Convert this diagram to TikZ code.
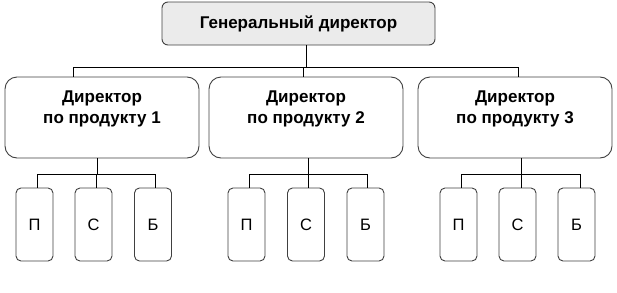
\documentclass[tikz,border=0pt]{standalone}
\usepackage{fontspec}
\setmainfont{Liberation Sans}
\begin{document}
\begin{tikzpicture}[x=1pt,y=-1pt,
  box/.style={draw=black!75, line width=0.9pt, fill=white},
  topbox/.style={box, fill=black!8, rounded corners=6pt, minimum width=273pt, minimum height=43pt, inner sep=0pt, font=\fontsize{17}{20.5}\selectfont\bfseries},
  midbox/.style={box, rounded corners=12pt, minimum width=194pt, minimum height=81pt, inner sep=0pt},
  midtext/.style={font=\fontsize{17}{20.5}\selectfont\bfseries, align=center, anchor=north, inner sep=0pt},
  smallbox/.style={box, rounded corners=5pt, minimum width=37pt, minimum height=73pt, inner sep=0pt, font=\fontsize{16.5}{18}\selectfont},
  conn/.style={draw=black, line width=0.9pt}
]
\useasboundingbox (0,0) rectangle (617,292);
\node[topbox] (top) at (298.5,23.5) {Генеральный директор};

\node[midbox] (m1) at (102,117.5) {};
\node[midbox] (m2) at (306,117.5) {};
\node[midbox] (m3) at (515,117.5) {};
\node[midtext] (t1) at ([yshift=-14.5pt]m1.north) {Директор\\по продукту 1};
\node[midtext] (t2) at ([yshift=-14.5pt]m2.north) {Директор\\по продукту 2};
\node[midtext] (t3) at ([yshift=-14.5pt]m3.north) {Директор\\по продукту 3};

\node[smallbox] (p1) at (34.5,224.5) {П};
\node[smallbox] (s1) at (93.5,224.5) {С};
\node[smallbox] (b1) at (153,224.5) {Б};
\node[smallbox] (p2) at (246.5,224.5) {П};
\node[smallbox] (s2) at (306,224.5) {С};
\node[smallbox] (b2) at (365.5,224.5) {Б};
\node[smallbox] (p3) at (458.5,224.5) {П};
\node[smallbox] (s3) at (517.5,224.5) {С};
\node[smallbox] (b3) at (576.5,224.5) {Б};

\coordinate (bus) at (0,67);
\coordinate (sbus) at (0,174);

% top level
\draw[conn] ([xshift=7.5pt]top.south) -- ([xshift=7.5pt]top.south |- bus);
\draw[conn] ([xshift=-29pt]m1.north) -- ([xshift=-29pt]m1.north |- bus) -- ([xshift=3pt]m3.north |- bus) -- ([xshift=3pt]m3.north);
\draw[conn] ([xshift=-3pt]m2.north) -- ([xshift=-3pt]m2.north |- bus);

% subtree 1
\draw[conn] ([xshift=-5pt]m1.south) -- ([xshift=-5pt]m1.south |- sbus);
\draw[conn] ([xshift=2.5pt]p1.north) -- ([xshift=2.5pt]p1.north |- sbus) -- ([xshift=2pt]b1.north |- sbus) -- ([xshift=2pt]b1.north);
\draw[conn] ([xshift=3pt]s1.north) -- ([xshift=3pt]s1.north |- sbus);
% subtree 2
\draw[conn] ([xshift=2pt]m2.south) -- ([xshift=2pt]m2.south |- sbus);
\draw[conn] ([xshift=2.5pt]p2.north) -- ([xshift=2.5pt]p2.north |- sbus) -- ([xshift=1.5pt]b2.north |- sbus) -- ([xshift=1.5pt]b2.north);
\draw[conn] ([xshift=2pt]s2.north) -- ([xshift=2pt]s2.north |- sbus);
% subtree 3
\draw[conn] ([xshift=6pt]m3.south) -- ([xshift=6pt]m3.south |- sbus);
\draw[conn] ([xshift=2.5pt]p3.north) -- ([xshift=2.5pt]p3.north |- sbus) -- ([xshift=3.5pt]b3.north |- sbus) -- ([xshift=3.5pt]b3.north);
\draw[conn] ([xshift=3.5pt]s3.north) -- ([xshift=3.5pt]s3.north |- sbus);
\end{tikzpicture}
\end{document}
